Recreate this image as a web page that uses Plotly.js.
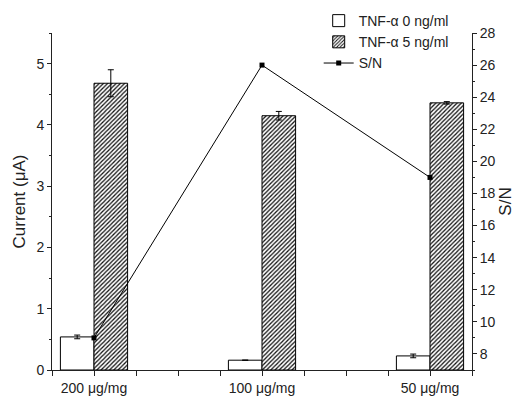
<!DOCTYPE html>
<html>
<head>
<meta charset="utf-8">
<script src="https://cdn.plot.ly/plotly-3.0.1.min.js"></script>
<style>html,body{margin:0;padding:0;background:#fff;}#chart{width:518px;height:403px;}</style>
</head>
<body>
<div id="chart"></div>
<script>
const categories = ["200 μg/mg", "100 μg/mg", "50 μg/mg"];
const current0 = [0.54, 0.16, 0.23];
const current0Err = [0.03, 0.0, 0.03];
const current5 = [4.68, 4.15, 4.36];
const current5Err = [0.22, 0.07, 0.02];
const snRatio = [9, 26, 19];

const xpos = categories.map((c, i) => i);
const font = "Arial, 'Liberation Sans', sans-serif";

const traces = [
  {
    type: "bar", name: "TNF-α 0 ng/ml", x: xpos, y: current0,
    marker: {color: "#ffffff", line: {color: "#000", width: 1}},
    error_y: {type: "data", array: current0Err, visible: true, color: "#000", thickness: 1, width: 3}
  },
  {
    type: "bar", name: "TNF-α 5 ng/ml", x: xpos, y: current5,
    marker: {color: "#ffffff", line: {color: "#000", width: 1},
      pattern: {shape: "/", fgcolor: "#111", bgcolor: "#ffffff", size: 3, solidity: 0.42}},
    error_y: {type: "data", array: current5Err, visible: true, color: "#000", thickness: 1, width: 3}
  },
  {
    type: "scatter", mode: "lines+markers", name: "S/N", x: xpos, y: snRatio, yaxis: "y2",
    line: {color: "#000", width: 1},
    marker: {symbol: "square", size: 5, color: "#000"}
  }
];

const layout = {
  width: 518, height: 403,
  margin: {l: 52, r: 46, t: 33, b: 33, autoexpand: false},
  paper_bgcolor: "#fff", plot_bgcolor: "#fff",
  font: {family: font, size: 14, color: "#222"},
  barmode: "group", bargap: 0.6, bargroupgap: 0,
  showlegend: true,
  legend: {x: 0.635, y: 1.083, xanchor: "left", yanchor: "top", bgcolor: "rgba(0,0,0,0)",
    font: {family: font, size: 14, color: "#222"}, tracegroupgap: 0},
  xaxis: {
    range: [-0.25, 2.25], tickvals: xpos, ticktext: categories,
    showline: true, linecolor: "#222", linewidth: 1, mirror: false,
    ticks: "outside", ticklen: 5, tickcolor: "#222", showgrid: false, zeroline: false,
    minor: {tick0: -0.25, dtick: 0.25, ticks: "outside", ticklen: 5, tickcolor: "#222", showgrid: false},
    tickfont: {family: font, size: 14, color: "#222"}
  },
  yaxis: {
    range: [0, 5.5], dtick: 1, tick0: 0,
    showline: true, linecolor: "#222", linewidth: 1,
    ticks: "outside", ticklen: 4, tickcolor: "#222", showgrid: false, zeroline: false,
    minor: {dtick: 0.5, ticks: "outside", ticklen: 2, tickcolor: "#222", showgrid: false},
    title: {text: "Current (μA)", font: {family: font, size: 17, color: "#222"}, standoff: 6},
    tickfont: {family: font, size: 14, color: "#222"}
  },
  yaxis2: {
    range: [7, 28], dtick: 2, tick0: 0, overlaying: "y", side: "right",
    showline: true, linecolor: "#222", linewidth: 1,
    ticks: "outside", ticklen: 4, tickcolor: "#222", showgrid: false, zeroline: false,
    minor: {dtick: 1, ticks: "outside", ticklen: 2, tickcolor: "#222", showgrid: false},
    title: {text: "S/N", font: {family: font, size: 17, color: "#222"}, standoff: 4},
    tickfont: {family: font, size: 14, color: "#222"}
  }
};

Plotly.newPlot("chart", traces, layout, {displayModeBar: false, staticPlot: true});
</script>
</body>
</html>
